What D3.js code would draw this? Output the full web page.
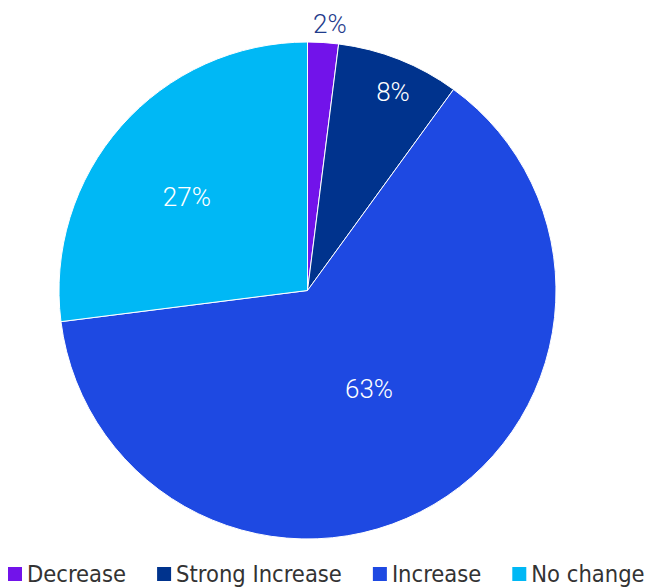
<!DOCTYPE html>
<html>
<head>
<meta charset="utf-8">
<script src="https://cdn.jsdelivr.net/npm/d3@7"></script>
<style>
  body { margin: 0; background: #fff; }
  svg { display: block; }
</style>
</head>
<body>
<svg width="648" height="587"></svg>
<script>
// data
var categories = ["Decrease", "Strong Increase", "Increase", "No change"];
var values = [2, 8, 63, 27];
var colors = ["#7213EA", "#00338D", "#1E49E2", "#00B8F5"];

var svg = d3.select("svg"),
    cx = 307.5, cy = 290.5, radius = 248.5;

var data = categories.map(function(c, i) { return { name: c, value: values[i], color: colors[i] }; });

var pie = d3.pie().sort(null).value(function(d) { return d.value; });
var arc = d3.arc().innerRadius(0).outerRadius(radius);

var g = svg.append("g").attr("transform", "translate(" + cx + "," + cy + ")");

var arcs = pie(data);

g.selectAll("path")
  .data(arcs)
  .enter().append("path")
  .attr("d", arc)
  .attr("fill", function(d) { return d.data.color; })
  .attr("stroke", "#fff")
  .attr("stroke-width", 1);

// label placement: [fraction of radius, angle nudge in degrees] (excel-ish best fit)
var labelPos = {
  "Decrease": [1.076, 1.2],
  "Strong Increase": [0.87, 1.7],
  "Increase": [0.467, -1.4],
  "No change": [0.616, -3.4]
};

g.selectAll("text.lbl")
  .data(arcs)
  .enter().append("text")
  .attr("class", "lbl")
  .attr("transform", function(d) {
    var p = labelPos[d.data.name];
    var r = radius * p[0];
    var a = (d.startAngle + d.endAngle) / 2 + p[1] * Math.PI / 180;
    return "translate(" + (Math.sin(a) * r) + "," + (-Math.cos(a) * r) + ")";
  })
  .attr("text-anchor", "middle")
  .attr("dy", "0.36em")
  .style("font-family", "Roboto, sans-serif")
  .style("font-weight", 300)
  .style("font-size", "26px")
  .attr("fill", function(d) { return d.data.name === "Decrease" ? "#1F3C8C" : "#fff"; })
  .text(function(d) { return d.data.value + "%"; });

// legend
var legend = svg.append("g").attr("transform", "translate(0,574)");
var xs = 8;
categories.forEach(function(c, i) {
  var item = legend.append("g").attr("transform", "translate(" + xs + ",0)");
  item.append("rect")
    .attr("x", 0).attr("y", -7)
    .attr("width", 14).attr("height", 14)
    .attr("fill", colors[i]);
  var t = item.append("text")
    .attr("x", 19)
    .attr("dy", "0.36em")
    .style("font-family", "'DejaVu Sans Condensed', 'Liberation Sans Narrow', sans-serif")
    .style("font-stretch", "condensed")
    .style("font-size", "23.5px")
    .attr("fill", "#333")
    .text(c);
  xs += 19 + t.node().getComputedTextLength() + 31;
});
</script>
</body>
</html>
